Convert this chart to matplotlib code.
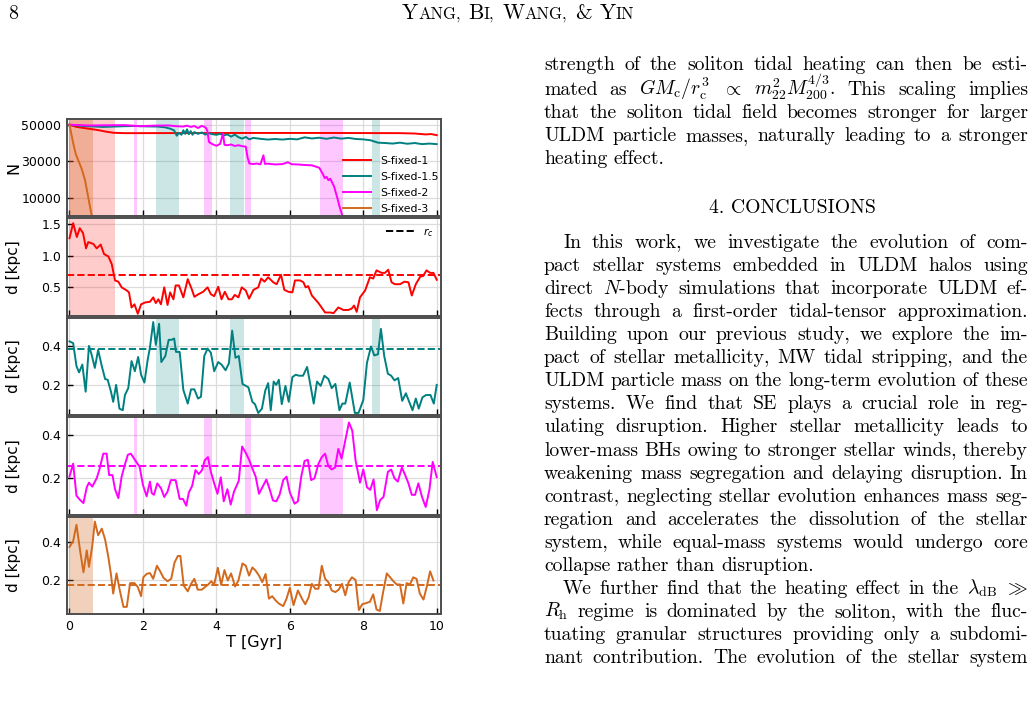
import matplotlib
matplotlib.use("Agg")
import matplotlib.pyplot as plt

# page / figure size
W, H = 1035, 705

# ---- data ----
# particle number N(T)
t_n1 = [0, 0.2, 0.5, 0.8, 1.0, 1.2, 1.5, 3.0, 5.0, 7.0, 9.0, 9.4, 9.7, 9.85, 10.0]
n_1 = [50000, 48800, 47900, 47000, 46200, 45600, 45400, 45450, 45500, 45500, 45400, 45200, 44700, 44900, 44300]

t_n15 = [0, 0.3, 0.6, 0.9, 1.2, 1.5, 1.8, 2.1, 2.4, 2.6, 2.75, 2.85, 2.92, 2.98, 3.05, 3.1, 3.15,
         3.2, 3.25, 3.3, 3.35, 3.4, 3.5, 3.6, 3.7, 3.8, 3.9, 4.0, 4.1, 4.2, 4.3, 4.4, 4.5, 4.6, 4.7,
         4.8, 4.9, 5.0, 5.2, 5.4, 5.6, 5.8, 6.0, 6.2, 6.4, 6.6, 6.8, 7.0, 7.2, 7.4, 7.6, 7.8, 8.0,
         8.2, 8.4, 8.6, 8.8, 9.0, 9.2, 9.4, 9.6, 9.8, 10.0]
n_15 = [50000, 49400, 49100, 48800, 49000, 49200, 49300, 49100, 49000, 48600, 47800, 46900, 44000,
        45500, 44500, 47000, 45000, 47500, 44800, 46500, 44500, 46000, 45000, 45800, 44600, 45300,
        44800, 44500, 45000, 44200, 44700, 43500, 44600, 43200, 42400, 43300, 42000, 42800, 42300,
        41900, 42200, 41900, 42300, 42000, 43100, 42500, 42900, 42300, 43000, 42400, 42800, 42200,
        42000, 41500, 40200, 40000, 39700, 40200, 39600, 40000, 39400, 39700, 39400]

t_n2 = [0, 0.5, 1.0, 1.5, 1.9, 2.3, 2.7, 2.9, 3.1, 3.2, 3.3, 3.4, 3.5, 3.6, 3.7, 3.75, 3.8, 3.9,
        4.0, 4.1, 4.18, 4.22, 4.3, 4.4, 4.5, 4.6, 4.7, 4.8, 4.85, 4.9, 5.0, 5.1, 5.2, 5.28, 5.32,
        5.4, 5.6, 5.8, 5.95, 6.05, 6.2, 6.4, 6.6, 6.8, 6.9, 6.95, 7.0, 7.05, 7.1, 7.15, 7.2, 7.25,
        7.3, 7.35, 7.42]
n_2 = [50000, 49600, 49700, 49800, 49200, 49500, 49600, 49200, 49000, 49500, 48800, 49300, 48200,
       49400, 48600, 47000, 40500, 39300, 38500, 39500, 45200, 39000, 38800, 39200, 38400, 38800,
       38300, 38000, 32000, 28800, 28500, 28800, 28400, 33300, 28600, 28700, 28300, 28500, 29500,
       28400, 28300, 28000, 27800, 26500, 23000, 20800, 21500, 19700, 20500, 18500, 16500, 13000,
       9500, 5500, 1000]

t_n3 = [0, 0.05, 0.1, 0.17, 0.25, 0.33, 0.42, 0.5, 0.56, 0.61]
n_3 = [50000, 45000, 40000, 34000, 30000, 26000, 20000, 11500, 5000, 0]

# distance d(T) [kpc]
t_d1 = [0, 0.1, 0.2, 0.28, 0.37, 0.45, 0.51, 0.65, 0.74, 0.85, 0.94, 1.06, 1.15, 1.24, 1.33, 1.42,
        1.56, 1.62, 1.69, 1.77, 1.86, 1.95, 2.06, 2.19, 2.28, 2.35, 2.42, 2.49, 2.58, 2.67, 2.74,
        2.83, 2.89, 2.98, 3.1, 3.22, 3.33, 3.4, 3.51, 3.64, 3.76, 3.85, 3.94, 4.05, 4.14, 4.23,
        4.33, 4.42, 4.5, 4.6, 4.69, 4.8, 4.89, 5.01, 5.14, 5.22, 5.31, 5.41, 5.55, 5.64, 5.76,
        5.85, 5.96, 6.07, 6.14, 6.28, 6.37, 6.43, 6.5, 6.6, 6.78, 6.96, 7.1, 7.19, 7.32, 7.46,
        7.59, 7.68, 7.75, 7.82, 7.91, 8.05, 8.18, 8.27, 8.36, 8.5, 8.59, 8.68, 8.77, 8.86, 9.0,
        9.12, 9.23, 9.32, 9.43, 9.55, 9.63, 9.72, 9.82, 9.91, 10.0]
d_1 = [1.28, 1.52, 1.30, 1.44, 1.36, 1.12, 1.22, 1.19, 1.12, 1.18, 1.03, 0.99, 0.87, 0.61, 0.59,
       0.50, 0.45, 0.42, 0.18, 0.23, 0.08, 0.23, 0.26, 0.27, 0.34, 0.25, 0.31, 0.23, 0.50, 0.22,
       0.42, 0.31, 0.53, 0.53, 0.34, 0.63, 0.47, 0.35, 0.39, 0.43, 0.50, 0.39, 0.36, 0.51, 0.31,
       0.43, 0.31, 0.31, 0.38, 0.34, 0.50, 0.45, 0.32, 0.46, 0.50, 0.64, 0.59, 0.66, 0.58, 0.55,
       0.70, 0.46, 0.43, 0.42, 0.61, 0.61, 0.58, 0.50, 0.52, 0.37, 0.25, 0.10, 0.10, 0.09, 0.18,
       0.14, 0.14, 0.16, 0.21, 0.11, 0.34, 0.45, 0.66, 0.64, 0.77, 0.73, 0.73, 0.78, 0.58, 0.55,
       0.55, 0.59, 0.58, 0.37, 0.55, 0.67, 0.68, 0.77, 0.73, 0.73, 0.62]

t_d15 = [0, 0.1, 0.19, 0.26, 0.35, 0.44, 0.53, 0.6, 0.69, 0.78, 0.88, 0.97, 1.04, 1.13, 1.19,
         1.27, 1.36, 1.45, 1.51, 1.6, 1.69, 1.78, 1.87, 1.95, 2.04, 2.13, 2.19, 2.28, 2.35, 2.44,
         2.5, 2.61, 2.7, 2.78, 2.85, 2.9, 3.0, 3.1, 3.22, 3.31, 3.4, 3.5, 3.58, 3.67, 3.76, 3.85,
         3.94, 4.05, 4.14, 4.25, 4.34, 4.43, 4.52, 4.61, 4.71, 4.8, 4.87, 4.98, 5.05, 5.14, 5.24,
         5.33, 5.41, 5.48, 5.56, 5.63, 5.7, 5.78, 5.88, 5.97, 6.07, 6.16, 6.25, 6.36, 6.47, 6.56,
         6.65, 6.74, 6.84, 6.94, 7.05, 7.14, 7.24, 7.35, 7.43, 7.51, 7.63, 7.77, 7.87, 8.0, 8.1,
         8.21, 8.3, 8.4, 8.48, 8.57, 8.67, 8.76, 8.85, 8.95, 9.06, 9.16, 9.25, 9.34, 9.43, 9.51,
         9.61, 9.71, 9.83, 9.92, 10.0]
d_15 = [0.423, 0.414, 0.296, 0.264, 0.304, 0.165, 0.40, 0.357, 0.287, 0.379, 0.296, 0.23, 0.226,
        0.165, 0.113, 0.20, 0.078, 0.07, 0.148, 0.183, 0.322, 0.27, 0.343, 0.252, 0.212, 0.33,
        0.391, 0.522, 0.405, 0.513, 0.317, 0.348, 0.431, 0.431, 0.438, 0.369, 0.369, 0.174, 0.104,
        0.177, 0.177, 0.13, 0.139, 0.348, 0.386, 0.365, 0.27, 0.317, 0.304, 0.275, 0.31, 0.478,
        0.339, 0.348, 0.205, 0.195, 0.188, 0.113, 0.101, 0.056, 0.078, 0.17, 0.209, 0.07, 0.217,
        0.20, 0.226, 0.101, 0.195, 0.113, 0.24, 0.252, 0.247, 0.247, 0.292, 0.20, 0.104, 0.217,
        0.195, 0.247, 0.23, 0.183, 0.205, 0.07, 0.104, 0.104, 0.212, 0.056, 0.056, 0.122, 0.313,
        0.397, 0.351, 0.357, 0.487, 0.348, 0.257, 0.247, 0.223, 0.235, 0.118, 0.157, 0.113, 0.07,
        0.13, 0.078, 0.136, 0.148, 0.148, 0.104, 0.20]

t_d2 = [0, 0.1, 0.19, 0.29, 0.38, 0.47, 0.53, 0.62, 0.74, 0.81, 0.92, 1.01, 1.08, 1.17, 1.24,
        1.33, 1.42, 1.51, 1.59, 1.67, 1.78, 1.91, 2.0, 2.1, 2.19, 2.24, 2.3, 2.39, 2.49, 2.58,
        2.67, 2.76, 2.89, 3.0, 3.09, 3.18, 3.25, 3.34, 3.43, 3.52, 3.61, 3.68, 3.77, 3.85, 3.94,
        4.03, 4.12, 4.2, 4.3, 4.39, 4.48, 4.61, 4.7, 4.79, 4.89, 4.98, 5.07, 5.16, 5.27, 5.36,
        5.45, 5.54, 5.63, 5.72, 5.82, 5.91, 6.0, 6.13, 6.22, 6.31, 6.4, 6.49, 6.58, 6.67, 6.78,
        6.87, 6.96, 7.05, 7.14, 7.23, 7.32, 7.41, 7.5, 7.61, 7.7, 7.79, 7.91, 8.0, 8.1, 8.19, 8.28,
        8.37, 8.46, 8.55, 8.67, 8.76, 8.85, 8.94, 9.05, 9.14, 9.23, 9.32, 9.41, 9.5, 9.6, 9.7, 9.8,
        9.89, 10.0]
d_2 = [0.208, 0.268, 0.12, 0.10, 0.086, 0.159, 0.18, 0.162, 0.20, 0.238, 0.314, 0.314, 0.215,
       0.215, 0.15, 0.109, 0.208, 0.265, 0.309, 0.314, 0.286, 0.253, 0.17, 0.117, 0.185, 0.132,
       0.124, 0.177, 0.155, 0.114, 0.139, 0.192, 0.192, 0.105, 0.105, 0.074, 0.135, 0.165, 0.238,
       0.22, 0.238, 0.283, 0.298, 0.23, 0.177, 0.129, 0.205, 0.094, 0.15, 0.079, 0.139, 0.189,
       0.347, 0.321, 0.286, 0.245, 0.208, 0.129, 0.165, 0.195, 0.15, 0.098, 0.094, 0.124, 0.192,
       0.208, 0.135, 0.083, 0.094, 0.208, 0.28, 0.286, 0.192, 0.20, 0.268, 0.298, 0.314, 0.256,
       0.241, 0.25, 0.336, 0.291, 0.367, 0.458, 0.42, 0.283, 0.18, 0.241, 0.159, 0.147, 0.195,
       0.053, 0.10, 0.114, 0.23, 0.241, 0.20, 0.185, 0.25, 0.215, 0.177, 0.124, 0.124, 0.177,
       0.114, 0.068, 0.147, 0.276, 0.205]

t_d3 = [0, 0.1, 0.19, 0.29, 0.38, 0.47, 0.53, 0.62, 0.69, 0.78, 0.88, 0.97, 1.06, 1.13, 1.19,
        1.28, 1.37, 1.47, 1.56, 1.65, 1.77, 1.86, 1.95, 2.01, 2.1, 2.19, 2.28, 2.38, 2.47, 2.56,
        2.67, 2.77, 2.86, 2.95, 3.02, 3.11, 3.22, 3.31, 3.4, 3.49, 3.6, 3.69, 3.78, 3.86, 3.94,
        4.04, 4.13, 4.22, 4.31, 4.4, 4.51, 4.6, 4.71, 4.8, 4.89, 4.98, 5.07, 5.16, 5.25, 5.34,
        5.43, 5.52, 5.61, 5.7, 5.82, 5.91, 6.0, 6.1, 6.22, 6.33, 6.42, 6.51, 6.6, 6.69, 6.78,
        6.87, 6.96, 7.05, 7.14, 7.24, 7.33, 7.42, 7.51, 7.6, 7.69, 7.79, 7.88, 7.97, 8.09, 8.18,
        8.27, 8.36, 8.45, 8.54, 8.64, 8.73, 8.82, 8.91, 9.0, 9.09, 9.18, 9.27, 9.36, 9.45, 9.54,
        9.64, 9.73, 9.82, 9.91]
d_3 = [0.374, 0.405, 0.493, 0.353, 0.239, 0.356, 0.268, 0.379, 0.51, 0.437, 0.472, 0.414, 0.318,
       0.226, 0.125, 0.233, 0.142, 0.054, 0.054, 0.181, 0.181, 0.16, 0.111, 0.212, 0.23, 0.235,
       0.204, 0.274, 0.244, 0.209, 0.191, 0.204, 0.291, 0.326, 0.326, 0.168, 0.137, 0.177, 0.204,
       0.146, 0.146, 0.16, 0.174, 0.191, 0.174, 0.263, 0.172, 0.251, 0.195, 0.233, 0.163, 0.195,
       0.286, 0.274, 0.221, 0.265, 0.247, 0.221, 0.186, 0.23, 0.098, 0.111, 0.089, 0.072, 0.058,
       0.098, 0.156, 0.063, 0.142, 0.098, 0.068, 0.104, 0.177, 0.151, 0.151, 0.274, 0.204, 0.186,
       0.142, 0.133, 0.146, 0.177, 0.116, 0.186, 0.212, 0.198, 0.037, 0.068, 0.075, 0.081, 0.121,
       0.04, 0.032, 0.133, 0.233, 0.212, 0.191, 0.174, 0.174, 0.072, 0.181, 0.174, 0.212, 0.204,
       0.125, 0.093, 0.163, 0.244, 0.195]

# characteristic radius r_c per run (dashed lines)
rc = [0.70, 0.382, 0.256, 0.172]

# shaded intervals [Gyr]
bands_1 = [(0.0, 1.23)]
bands_15 = [(2.36, 2.99), (4.37, 4.76), (8.24, 8.46)]
bands_2 = [(1.76, 1.84), (3.67, 3.88), (4.78, 4.95), (6.83, 7.45)]
bands_3 = [(0.0, 0.63)]

labels = ["S-fixed-1", "S-fixed-1.5", "S-fixed-2", "S-fixed-3"]
colors = ["red", "teal", "magenta", "chocolate"]
alphas = [0.2, 0.2, 0.22, 0.3]

fig = plt.figure(figsize=(W / 100, H / 100), dpi=100)
axes = fig.subplots(5, 1, sharex=True,
                    gridspec_kw=dict(left=66.7 / W, right=440.7 / W, top=1 - 118.7 / H,
                                     bottom=1 - 614 / H, hspace=0.02))

n_t = [t_n1, t_n15, t_n2, t_n3]
n_v = [n_1, n_15, n_2, n_3]
d_t = [t_d1, t_d15, t_d2, t_d3]
d_v = [d_1, d_15, d_2, d_3]
bands = [bands_1, bands_15, bands_2, bands_3]

for ax in axes:
    ax.grid(True, color="#dcdcdc", lw=0.9)
    ax.set_axisbelow(True)
    ax.tick_params(direction="in", length=4, width=1, labelsize=9, pad=4)
    for sp in ax.spines.values():
        sp.set_color("0.3")
        sp.set_linewidth(1.4)
    ax.set_xlim(-0.076, 10.108)

# top panel: N
ax = axes[0]
for i in range(4):
    for a, b in bands[i]:
        ax.axvspan(a, b, color=colors[i], alpha=alphas[i], lw=0)
for i in range(4):
    ax.plot(n_t[i], n_v[i], color=colors[i], lw=1.4, label=labels[i])
ax.set_ylim(0, 53300)
ax.set_yticks([10000, 30000, 50000])
ax.set_ylabel("N", fontsize=11.5)
ax.legend(loc="lower right", frameon=False, fontsize=7.8, handlelength=2.6,
          labelspacing=0.55, borderaxespad=0.0, borderpad=0.2)

ylims = [(0.05, 1.6), (0.045, 0.545), (0.033, 0.483), (0.016, 0.537)]
yticks = [[0.5, 1.0, 1.5], [0.2, 0.4], [0.2, 0.4], [0.2, 0.4]]
for i in range(4):
    ax = axes[i + 1]
    for a, b in bands[i]:
        ax.axvspan(a, b, color=colors[i], alpha=alphas[i], lw=0)
    ax.plot(d_t[i], d_v[i], color=colors[i], lw=1.4)
    ax.axhline(rc[i], color=colors[i], ls="--", lw=1.4)
    ax.set_ylim(*ylims[i])
    ax.set_yticks(yticks[i])
    ax.set_ylabel("d [kpc]", fontsize=11)

axes[1].plot([], [], color="black", ls="--", lw=1.4, label="$r_c$")
axes[1].legend(loc="upper right", frameon=False, fontsize=7.8, handlelength=2.6,
               borderaxespad=0.3)

for ax in axes:
    ax.yaxis.set_label_coords(-0.122, 0.5)
axes[-1].set_xticks([0, 2, 4, 6, 8, 10])
axes[-1].set_xlabel("T [Gyr]", fontsize=11.5, labelpad=2)

# ---- page text around the figure ----
plt.rcParams["mathtext.fontset"] = "cm"
SERIF = "cmr10"
FS = 14.2
rend = fig.canvas.get_renderer()


def put(x_px, y_px, s, size=FS, **kw):
    return fig.text(x_px / W, 1 - y_px / H, s, fontsize=size, family=SERIF,
                    va="baseline", **kw)


def line(words, y_px, x0, x1=1028, just=True):
    arts = [put(0, y_px, w) for w in words]
    ws = [a.get_window_extent(rend).width for a in arts]
    gap = (x1 - x0 - sum(ws)) / (len(words) - 1) if just else FS * 0.45
    x = x0
    for a, w in zip(arts, ws):
        a.set_x(x / W)
        x += w + gap


def small_caps(x_mid, y_px, words, big=15.5, small=12.0):
    arts = []
    for first, rest in words:
        arts.append((put(0, y_px, first, size=big), 0))
        if rest:
            arts.append((put(0, y_px, rest, size=small), 0))
        arts.append((None, big * 0.5))
    ws = [a.get_window_extent(rend).width if a is not None else g for a, g in arts[:-1]]
    x = x_mid - sum(ws) / 2
    for (a, g), w in zip(arts[:-1], ws):
        if a is not None:
            a.set_x(x / W)
        x += w


put(8, 19, "8")
small_caps(518, 19, [("Y", "ANG,"), ("B", "I,"), ("W", "ANG,"), ("&", ""), ("Y", "IN")])

L0, IND = 544, 563
para1 = [
    ("strength of the soliton tidal heating can then be esti-", L0, True),
    (r"mated as $GM_\mathrm{c}/r_\mathrm{c}^3$ $\propto$ $m_{22}^2M_{200}^{4/3}$.  This scaling implies", L0, True),
    ("that the soliton tidal field becomes stronger for larger", L0, True),
    ("ULDM particle masses, naturally leading to a stronger", L0, True),
    ("heating effect.", L0, False),
]
base1 = [70, 95, 118, 141, 164]
for (txt, x0, j), y in zip(para1, base1):
    line(txt.split(), y, x0, just=j)

put(792, 213, "4. CONCLUSIONS", ha="center")

para2 = [
    ("In this work, we investigate the evolution of com-", IND, True),
    ("pact stellar systems embedded in ULDM halos using", L0, True),
    ("direct $N$-body simulations that incorporate ULDM ef-", L0, True),
    ("fects through a first-order tidal-tensor approximation.", L0, True),
    ("Building upon our previous study, we explore the im-", L0, True),
    ("pact of stellar metallicity, MW tidal stripping, and the", L0, True),
    ("ULDM particle mass on the long-term evolution of these", L0, True),
    ("systems.  We find that SE plays a crucial role in reg-", L0, True),
    ("ulating disruption.  Higher stellar metallicity leads to", L0, True),
    ("lower-mass BHs owing to stronger stellar winds, thereby", L0, True),
    ("weakening mass segregation and delaying disruption. In", L0, True),
    ("contrast, neglecting stellar evolution enhances mass seg-", L0, True),
    ("regation and accelerates the dissolution of the stellar", L0, True),
    ("system, while equal-mass systems would undergo core", L0, True),
    ("collapse rather than disruption.", L0, False),
    (r"We further find that the heating effect in the $\lambda_\mathrm{dB}$ $\gg$", IND, True),
    (r"$R_\mathrm{h}$ regime is dominated by the soliton, with the fluc-", L0, True),
    ("tuating granular structures providing only a subdomi-", L0, True),
    ("nant contribution.  The evolution of the stellar system", L0, True),
]
for k, (txt, x0, j) in enumerate(para2):
    line(txt.split(), 248 + 23.06 * k, x0, just=j)

fig.savefig("out.png", dpi=100)
